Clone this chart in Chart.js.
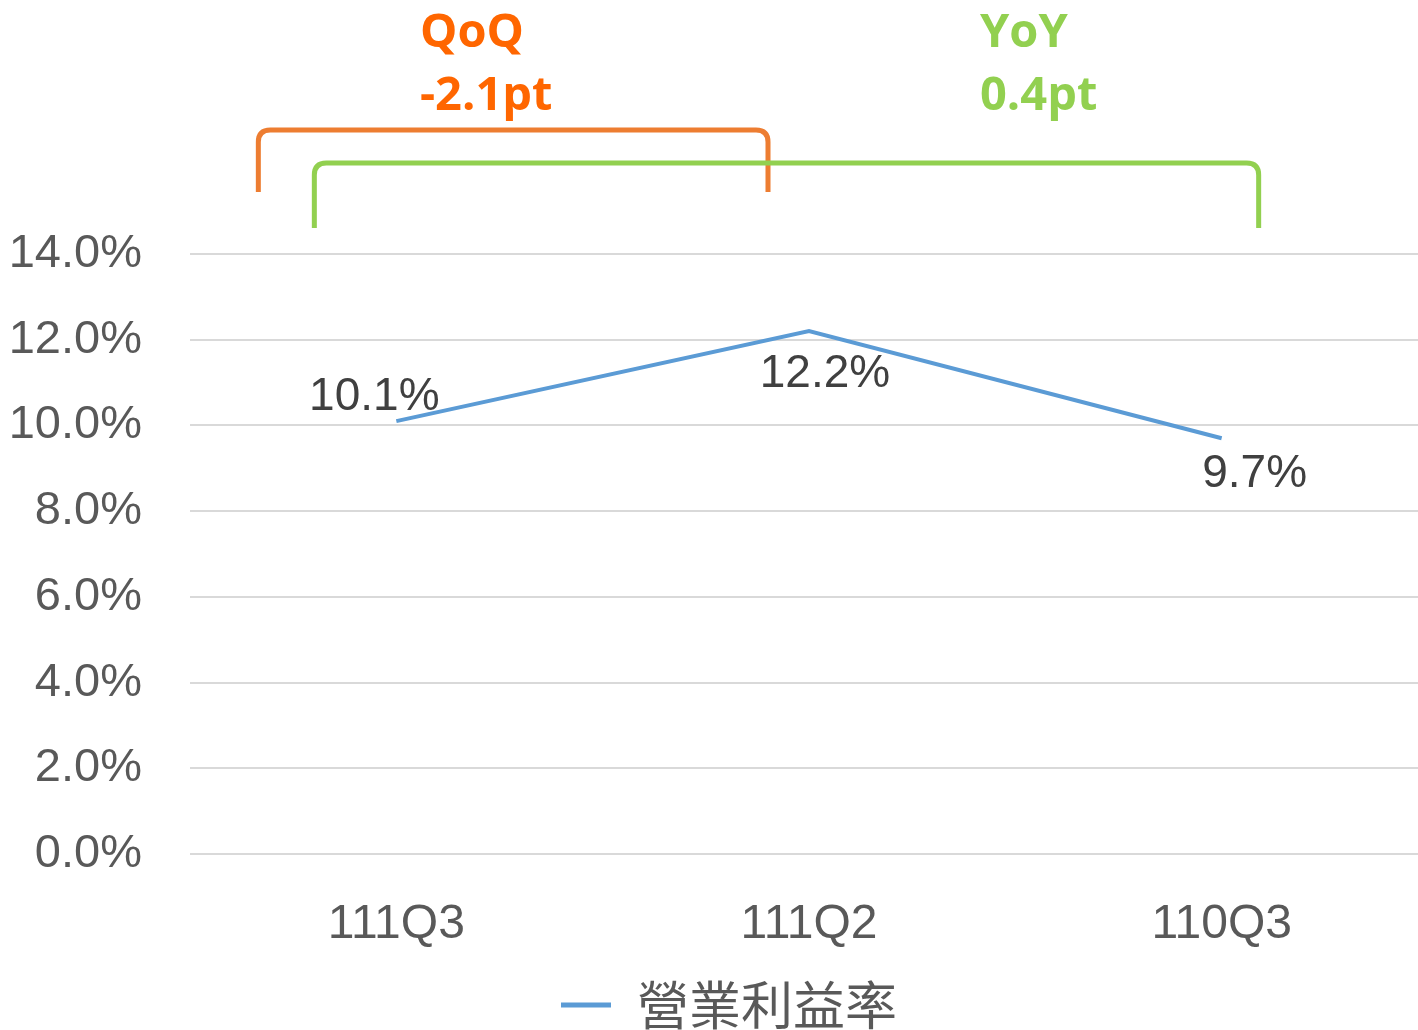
<!DOCTYPE html>
<html>
<head>
<meta charset="utf-8">
<script src="https://cdn.jsdelivr.net/npm/chart.js@4.4.1/dist/chart.umd.min.js"></script>
<style>
    html, body { margin: 0; padding: 0; background: #fff; overflow: hidden; }
    #wrap { width: 1428px; height: 1030px; }
</style>
</head>
<body>
<div id="wrap"><canvas id="chart"></canvas></div>
<script>
// data
const quarters = ['111Q3', '111Q2', '110Q3'];
const opMargin = [10.1, 12.2, 9.7];
const yTicks = [0, 2, 4, 6, 8, 10, 12, 14];
const seriesName = '營業利益率';

// label offsets from each point (px), matching excel's manual label placement
const labelShift = [[-22, -24], [16, 43], [33, 36]];

const brackets = [
    { title: 'QoQ', value: '-2.1pt', text: '#FF6600', line: '#ED7D31', from: 0, fromDx: -138, to: 1, toDx: -41, top: 130, bottom: 192, textX: 420 },
    { title: 'YoY', value: '0.4pt', text: '#92D050', line: '#92D050', from: 0, fromDx: -82, to: 2, toDx: 37, top: 163, bottom: 228, textX: 980 }
];

const TXT = '#595959';
const NUM_FONT = '"Liberation Sans", "DejaVu Sans", sans-serif';

const annotations = {
    id: 'annotations',
    afterLayout(chart) {
        // nudge legend a bit right, as in the original
        chart.legend.left += 15;
        chart.legend.right += 15;
    },
    afterDatasetsDraw(chart) {
        const ctx = chart.ctx;
        const meta = chart.getDatasetMeta(0);
        ctx.save();
        ctx.font = `46px ${NUM_FONT}`;
        ctx.fillStyle = '#404040';
        ctx.textAlign = 'center';
        ctx.textBaseline = 'middle';
        meta.data.forEach((pt, i) => {
            const [dx, dy] = labelShift[i];
            ctx.fillText(opMargin[i].toFixed(1) + '%', pt.x + dx, pt.y + dy);
        });

        const xs = chart.scales.x;
        brackets.forEach(b => {
            const x1 = xs.getPixelForValue(b.from) + b.fromDx;
            const x2 = xs.getPixelForValue(b.to) + b.toDx;
            const r = 12;
            ctx.strokeStyle = b.line;
            ctx.lineWidth = 5;
            ctx.beginPath();
            ctx.moveTo(x1, b.bottom);
            ctx.lineTo(x1, b.top + r);
            ctx.quadraticCurveTo(x1, b.top, x1 + r, b.top);
            ctx.lineTo(x2 - r, b.top);
            ctx.quadraticCurveTo(x2, b.top, x2, b.top + r);
            ctx.lineTo(x2, b.bottom);
            ctx.stroke();

            ctx.fillStyle = b.text;
            ctx.font = `bold 47px "Open Sans", ${NUM_FONT}`;
            ctx.textAlign = 'left';
            ctx.textBaseline = 'middle';
            ctx.fillText(b.title, b.textX, 34);
            ctx.fillText(b.value, b.textX, 97);
        });
        ctx.restore();
    }
};

new Chart(document.getElementById('chart'), {
    type: 'line',
    data: {
        labels: quarters,
        datasets: [{
            label: seriesName,
            data: opMargin,
            borderColor: '#5B9BD5',
            backgroundColor: '#5B9BD5',
            borderWidth: 4,
            pointRadius: 0,
            tension: 0
        }]
    },
    options: {
        responsive: true,
        maintainAspectRatio: false,
        animation: false,
        layout: { padding: { top: 254, right: 0, bottom: -11, left: 0 } },
        plugins: {
            tooltip: { enabled: false },
            legend: {
                position: 'bottom',
                labels: {
                    color: TXT,
                    font: { family: '"Noto Sans CJK TC", sans-serif', size: 52 },
                    boxWidth: 50,
                    boxHeight: 5,
                    padding: 4,
                    generateLabels(chart) {
                        return Chart.defaults.plugins.legend.labels.generateLabels(chart)
                            .map(l => ({ ...l, lineWidth: 0 }));
                    }
                }
            }
        },
        scales: {
            x: {
                offset: true,
                afterFit: s => { s.height = 121; },
                grid: { display: false, drawTicks: false },
                border: { display: false },
                ticks: { color: TXT, padding: 42, font: { family: NUM_FONT, size: 48 } }
            },
            y: {
                min: 0,
                max: 14,
                afterFit: s => { s.width = 190; },
                afterBuildTicks: s => { s.ticks = yTicks.map(v => ({ value: v })); },
                grid: { color: '#D9D9D9', lineWidth: 2, drawTicks: false },
                border: { display: false },
                ticks: {
                    color: TXT,
                    padding: 48,
                    font: { family: NUM_FONT, size: 47 },
                    callback: v => v.toFixed(1) + '%'
                }
            }
        }
    },
    plugins: [annotations]
});
</script>
</body>
</html>
